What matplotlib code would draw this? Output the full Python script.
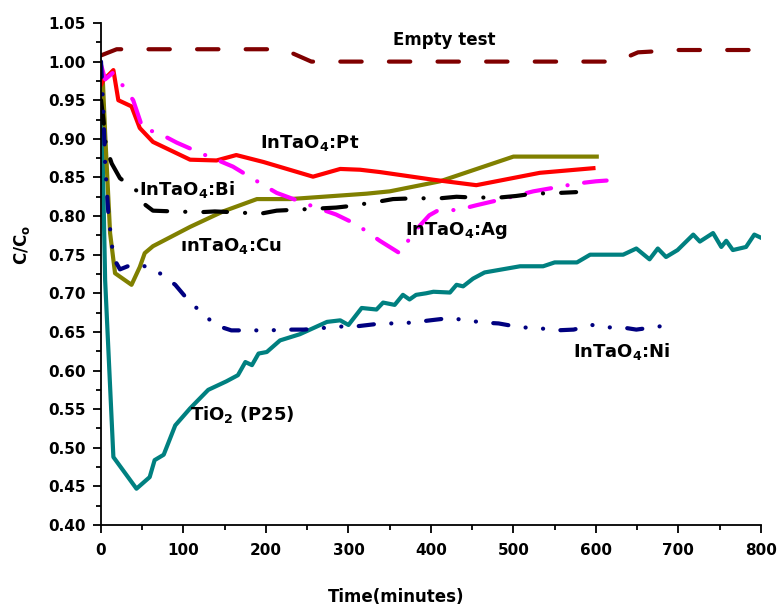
import matplotlib
matplotlib.use("Agg")
import matplotlib.pyplot as plt
from matplotlib.ticker import MultipleLocator, FormatStrFormatter

# --- data ---
empty_x = [0, 19, 50, 100, 150, 200, 221, 255, 300, 400, 500, 600, 625, 651, 700, 800]
empty_y = [1.008, 1.016, 1.016, 1.016, 1.016, 1.016, 1.016, 1.0, 1.0, 1.0, 1.0, 1.0, 1.0, 1.012, 1.015, 1.015]

pt_x = [0, 3, 15, 21, 37, 47, 63, 108, 140, 164, 197, 257, 290, 314, 338, 403, 455, 532, 597]
pt_y = [0.97, 0.976, 0.989, 0.950, 0.942, 0.914, 0.896, 0.873, 0.872, 0.879, 0.870,
        0.851, 0.861, 0.860, 0.857, 0.847, 0.840, 0.856, 0.862]

ag_x = [0, 5, 15, 39, 51, 67, 92, 124, 140, 160, 197, 213, 261, 285, 310, 338, 362,
        380, 398, 408, 433, 455, 483, 524, 556, 576, 600, 613]
ag_y = [0.996, 0.977, 0.986, 0.950, 0.912, 0.909, 0.895, 0.880, 0.873, 0.864, 0.840,
        0.830, 0.811, 0.802, 0.789, 0.768, 0.752, 0.780, 0.801, 0.807, 0.808, 0.814,
        0.821, 0.832, 0.838, 0.842, 0.845, 0.846]

bi_x = [0, 3, 6, 13, 23, 43, 47, 63, 88, 120, 138, 160, 193, 213, 250, 285, 302, 338,
        354, 378, 411, 431, 451, 483, 503, 524, 556, 576]
bi_y = [0.95, 0.924, 0.89, 0.868, 0.849, 0.833, 0.820, 0.807, 0.806, 0.805, 0.806,
        0.805, 0.803, 0.807, 0.809, 0.811, 0.813, 0.819, 0.822, 0.823, 0.823, 0.825,
        0.824, 0.824, 0.826, 0.829, 0.830, 0.831]

cu_x = [0, 2, 5, 11, 17, 37, 47, 53, 63, 108, 148, 189, 229, 269, 322, 350, 411, 500, 601]
cu_y = [0.99, 0.981, 0.907, 0.778, 0.726, 0.711, 0.734, 0.752, 0.761, 0.786, 0.806,
        0.822, 0.822, 0.825, 0.829, 0.832, 0.845, 0.877, 0.877]

ni_x = [0, 3, 5, 9, 15, 23, 37, 47, 65, 90, 109, 124, 138, 158, 180, 205, 222, 246,
        268, 292, 308, 332, 352, 376, 399, 423, 443, 465, 482, 508, 530, 552, 573,
        595, 614, 637, 649, 683]
ni_y = [1.0, 0.931, 0.867, 0.802, 0.746, 0.731, 0.737, 0.737, 0.731, 0.711, 0.687,
        0.674, 0.659, 0.652, 0.652, 0.652, 0.653, 0.653, 0.655, 0.657, 0.657, 0.660,
        0.661, 0.662, 0.665, 0.668, 0.665, 0.662, 0.661, 0.656, 0.655, 0.652, 0.653,
        0.659, 0.656, 0.655, 0.653, 0.658]

ti_x = [0, 5, 15, 43, 59, 65, 76, 90, 108, 130, 152, 166, 175, 183, 191, 201, 217,
        241, 274, 290, 300, 316, 334, 342, 356, 366, 374, 382, 394, 403, 423, 431,
        439, 451, 465, 508, 536, 550, 577, 593, 633, 649, 665, 675, 685, 699, 718,
        726, 742, 752, 758, 766, 782, 792, 800]
ti_y = [0.99, 0.717, 0.488, 0.447, 0.462, 0.484, 0.491, 0.529, 0.551, 0.575, 0.586,
        0.594, 0.611, 0.607, 0.622, 0.624, 0.639, 0.647, 0.663, 0.665, 0.659, 0.681,
        0.679, 0.688, 0.685, 0.698, 0.692, 0.698, 0.700, 0.702, 0.701, 0.711, 0.709,
        0.719, 0.727, 0.735, 0.735, 0.740, 0.740, 0.750, 0.750, 0.758, 0.744, 0.758,
        0.747, 0.756, 0.776, 0.767, 0.778, 0.760, 0.768, 0.756, 0.760, 0.776, 0.772]

plt.rcParams["font.family"] = ["DejaVu Sans"]
plt.rcParams["font.weight"] = "bold"
plt.rcParams["axes.labelweight"] = "bold"
plt.rcParams["mathtext.fontset"] = "custom"
plt.rcParams["mathtext.rm"] = "DejaVu Sans:bold"
plt.rcParams["mathtext.bf"] = "DejaVu Sans:bold"
plt.rcParams["lines.scale_dashes"] = False

fig = plt.figure(figsize=(7.8, 6.08), dpi=100)
ax = fig.add_axes([0.1295, 0.1365, 0.846, 0.8257])

lw = 3.0
ax.plot(ti_x, ti_y, color="#008080", lw=lw)
ax.plot(cu_x, cu_y, color="#808000", lw=lw)
ax.plot(pt_x, pt_y, color="#ff0000", lw=lw)
ax.plot(ag_x, ag_y, color="#ff00ff", lw=lw, linestyle=(0, (18, 12, 0.1, 12)),
        dash_capstyle="round")
ax.plot(bi_x, bi_y, color="black", lw=lw, linestyle=(0, (17, 13, 0.1, 13)),
        dash_capstyle="round")
ax.plot(ni_x, ni_y, color="#000080", lw=lw,
        linestyle=(0, (11, 12.5, 0.1, 12.5, 0.1, 12.5)), dash_capstyle="round")
ax.plot(empty_x, empty_y, color="#800000", lw=lw, linestyle=(0, (15.4, 19.6)),
        dash_capstyle="round")

fs = 13
ax.text(354, 1.0216, "Empty test", fontsize=12, fontweight="bold", va="baseline")
ax.text(193, 0.888, r"InTaO$_\mathbf{4}$:Pt", fontsize=fs, fontweight="bold", va="baseline")
ax.text(46, 0.827, r"InTaO$_\mathbf{4}$:Bi", fontsize=fs, fontweight="bold", va="baseline")
ax.text(96, 0.755, r"ınTaO$_\mathbf{4}$:Cu", fontsize=fs, fontweight="bold", va="baseline")
ax.text(368, 0.7755, r"InTaO$_\mathbf{4}$:Ag", fontsize=fs, fontweight="bold", va="baseline")
ax.text(572, 0.618, r"InTaO$_\mathbf{4}$:Ni", fontsize=fs, fontweight="bold", va="baseline")
ax.text(108, 0.536, r"TiO$_\mathbf{2}$ (P25)", fontsize=fs, fontweight="bold", va="baseline")

ax.set_xlim(0, 800)
ax.set_ylim(0.40, 1.05)
ax.xaxis.set_major_locator(MultipleLocator(100))
ax.xaxis.set_minor_locator(MultipleLocator(50))
ax.yaxis.set_major_locator(MultipleLocator(0.05))
ax.yaxis.set_minor_locator(MultipleLocator(0.025))
ax.yaxis.set_major_formatter(FormatStrFormatter("%.2f"))

for s in ["top", "right"]:
    ax.spines[s].set_visible(False)
for s in ["left", "bottom"]:
    ax.spines[s].set_linewidth(1.3)

ax.tick_params(which="major", direction="out", length=6, width=1.3, labelsize=11)
ax.tick_params(which="minor", direction="out", length=3.5, width=1.3)
ax.tick_params(axis="x", which="major", pad=7)
ax.tick_params(axis="y", which="major", pad=5)

ax.set_xlabel("Time(minutes)", fontsize=12, fontweight="bold")
ax.set_ylabel(r"C/C$_\mathbf{o}$", fontsize=12, fontweight="bold")
ax.xaxis.set_label_coords(0.447, -0.1255)
ax.yaxis.set_label_coords(-0.105, 0.558)

fig.savefig("out.png", dpi=100)
